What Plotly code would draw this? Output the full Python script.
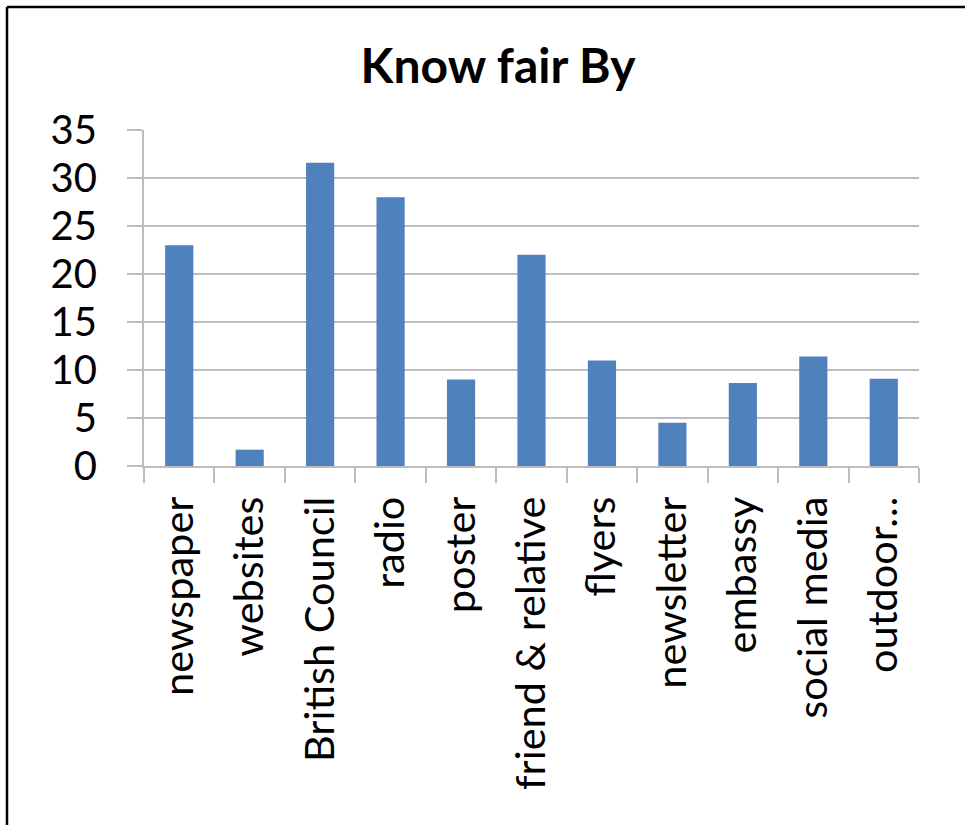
import plotly.graph_objects as go

# Survey: how visitors heard about the fair
categories = ["newspaper", "websites", "British Council", "radio", "poster",
              "friend & relative", "flyers", "newsletter", "embassy",
              "social media", "outdoor…"]
counts = [23, 1.7, 31.6, 28, 9, 22, 11, 4.5, 8.65, 11.4, 9.1]
y_ticks = [0, 5, 10, 15, 20, 25, 30, 35]

W, H = 965, 825
ML, MR, MT, MB = 144, 46, 130, 359

fig = go.Figure(
    go.Bar(
        x=categories,
        y=counts,
        marker=dict(color="#4F81BD", line=dict(width=0)),
        hoverinfo="x+y",
    )
)

font_family = "Lato, Carlito, Calibri, sans-serif"
grid_col = "#BDBDBD"

pw = W - ML - MR
ph = H - MT - MB

fig.update_layout(
    width=W,
    height=H,
    margin=dict(l=ML, r=MR, t=MT, b=MB, pad=0),
    paper_bgcolor="white",
    plot_bgcolor="white",
    bargap=0.6,
    showlegend=False,
    title=dict(
        text="<b>Know fair By</b>",
        font=dict(family=font_family, size=48, color="black"),
        x=(498 - ML) / pw,
        xanchor="center",
        xref="paper",
        y=1 - 66 / H,
        yanchor="middle",
    ),
    font=dict(family=font_family, color="black"),
)

fig.update_xaxes(
    type="category",
    tickangle=-90,
    tickfont=dict(family=font_family, size=41.5, color="black"),
    showline=True,
    linecolor=grid_col,
    linewidth=2,
    ticks="outside",
    tickson="boundaries",
    ticklen=15,
    tickwidth=2,
    tickcolor=grid_col,
    showgrid=False,
    ticklabelstandoff=12,
)

fig.update_yaxes(
    range=[0, 35],
    tickvals=y_ticks,
    tickfont=dict(family=font_family, size=40, color="black"),
    showline=True,
    linecolor=grid_col,
    linewidth=2,
    ticks="outside",
    ticklen=15,
    tickwidth=2,
    tickcolor=grid_col,
    showgrid=True,
    gridcolor=grid_col,
    gridwidth=2,
    zeroline=False,
    ticklabelstandoff=22,
)

# Frame around the figure (left and top edges)
x_left = (7 - ML) / pw
y_top = (H - 7 - MB) / ph
y_bot = (-MB - 5) / ph
x_right = (W + 5 - ML) / pw
fig.add_shape(type="line", xref="paper", yref="paper",
              x0=x_left, x1=x_left, y0=y_bot, y1=y_top,
              line=dict(color="black", width=2.5))
fig.add_shape(type="line", xref="paper", yref="paper",
              x0=x_left, x1=x_right, y0=y_top, y1=y_top,
              line=dict(color="black", width=2.5))

fig.write_html("out.html")
